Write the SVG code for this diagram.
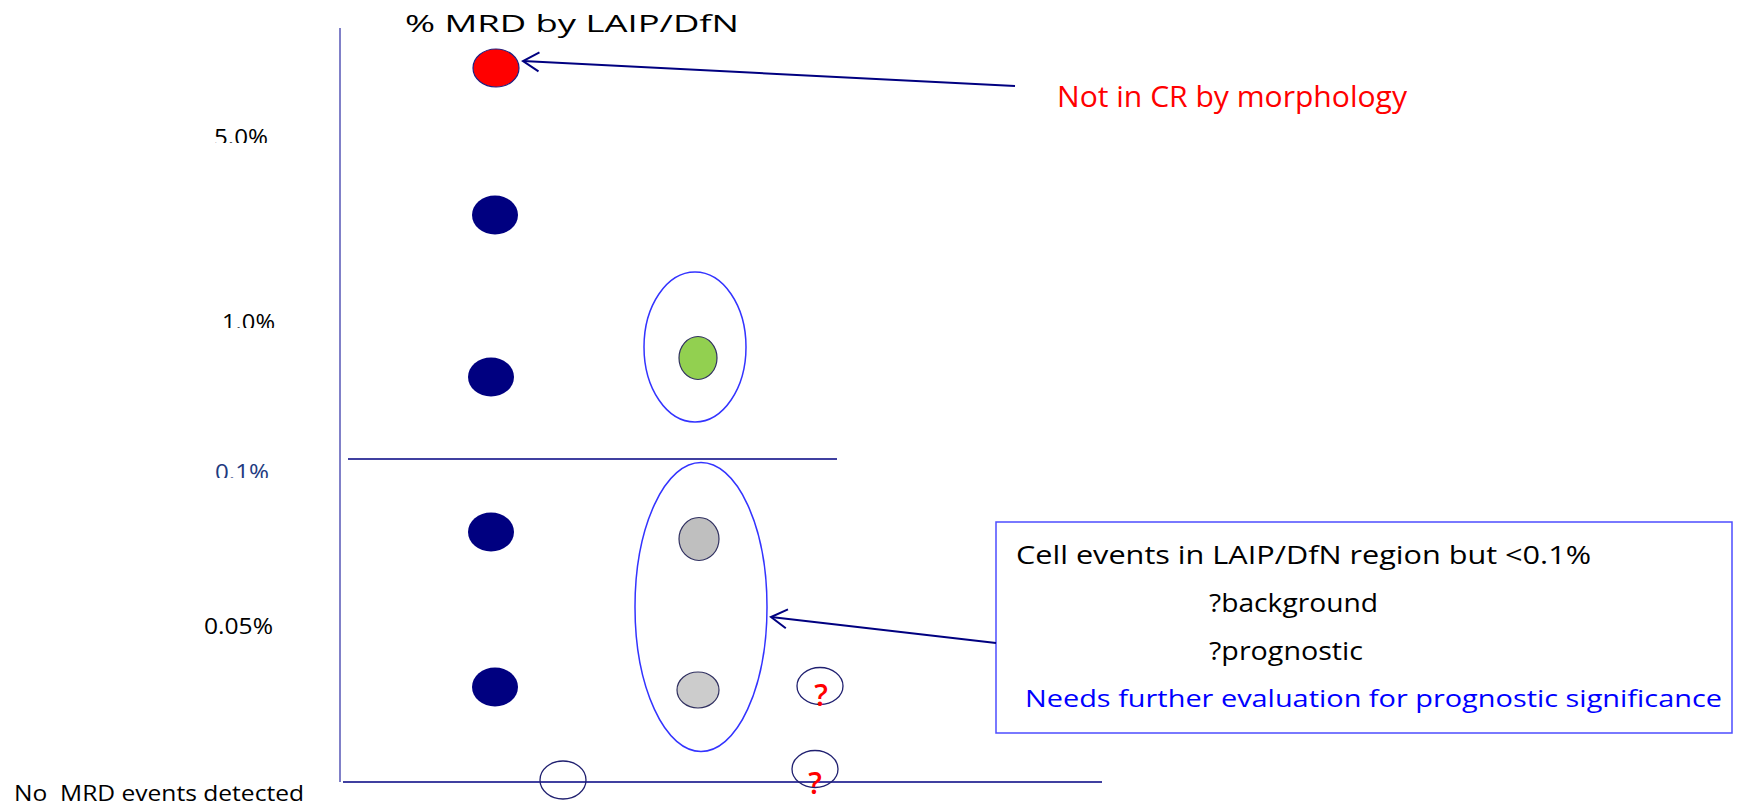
<svg xmlns="http://www.w3.org/2000/svg" width="1742" height="804" viewBox="0 0 1742 804">
  <style>
    .lbl { font-family: "Open Sans", "Liberation Sans", sans-serif; fill: #000; }
    .axis { stroke: #8080c8; stroke-width: 2; fill: none; }
    .hline { stroke: #000080; stroke-width: 1.6; fill: none; }
    .dot { fill: #000080; }
    .ring { fill: none; stroke: #3333ff; stroke-width: 1.5; }
    .small { fill: none; stroke: #202070; stroke-width: 1.3; }
    .q { font-family: "Open Sans", "Liberation Sans", sans-serif; fill: #ff0000; font-size: 30px; font-weight: 600; text-anchor: middle; }
    .conn { stroke: #000080; stroke-width: 2; fill: none; }
  </style>
  <defs>
    <marker id="open" viewBox="-20 -12 24 24" refX="0" refY="0" markerWidth="24" markerHeight="24" markerUnits="userSpaceOnUse" orient="auto">
      <path d="M-16,-9.5 L0,0 L-16,9.5" fill="none" stroke="#000080" stroke-width="2"/>
    </marker>
    <clipPath id="c5"><rect x="150" y="100" width="200" height="43"/></clipPath>
    <clipPath id="c1"><rect x="150" y="290" width="200" height="38"/></clipPath>
    <clipPath id="c01"><rect x="150" y="440" width="180" height="38"/></clipPath>
  </defs>
  <rect width="1742" height="804" fill="#ffffff"/>

  <g id="axes">
    <line class="axis" x1="340" y1="28" x2="340" y2="782"/>
    <line class="hline" x1="348" y1="459" x2="837" y2="459"/>
    <line class="hline" x1="343" y1="782" x2="1102" y2="782"/>
  </g>

  <g id="axis-labels">
    <text class="lbl" x="405" y="32" font-size="24" textLength="334" lengthAdjust="spacingAndGlyphs">% MRD by LAIP/DfN</text>
    <text class="lbl" x="214" y="145" font-size="22" textLength="54" lengthAdjust="spacingAndGlyphs" clip-path="url(#c5)">5.0%</text>
    <text class="lbl" x="222" y="330" font-size="22" textLength="53" lengthAdjust="spacingAndGlyphs" clip-path="url(#c1)">1.0%</text>
    <text class="lbl" x="215" y="480" font-size="22" textLength="54" lengthAdjust="spacingAndGlyphs" style="fill:#1f3b7f" clip-path="url(#c01)">0.1%</text>
    <text class="lbl" x="204" y="634" font-size="22" textLength="69" lengthAdjust="spacingAndGlyphs">0.05%</text>
    <text class="lbl" x="14" y="801" font-size="22" textLength="290" lengthAdjust="spacingAndGlyphs" style="white-space:pre">No  MRD events detected</text>
  </g>

  <g id="red-dot"><ellipse cx="496" cy="68" rx="23" ry="19" fill="#ff0000" stroke="#202080" stroke-width="1.2"/></g>
  <g id="dot-1"><ellipse class="dot" cx="495" cy="215" rx="23" ry="19.5"/></g>
  <g id="dot-2"><ellipse class="dot" cx="491" cy="377" rx="23" ry="19.5"/></g>
  <g id="dot-3"><ellipse class="dot" cx="491" cy="532" rx="23" ry="19.5"/></g>
  <g id="dot-4"><ellipse class="dot" cx="495" cy="687" rx="23" ry="19.5"/></g>

  <g id="green-group">
    <ellipse class="ring" cx="695" cy="347" rx="51" ry="75"/>
    <ellipse cx="698" cy="358" rx="19" ry="21.5" fill="#92d050" stroke="#303060" stroke-width="1.2"/>
  </g>

  <g id="grey-group">
    <ellipse class="ring" cx="701" cy="607" rx="66" ry="144.5"/>
    <ellipse cx="699" cy="539" rx="20" ry="21.5" fill="#bfbfbf" stroke="#303060" stroke-width="1.2"/>
    <ellipse cx="698" cy="690" rx="21" ry="18" fill="#cccccc" stroke="#303060" stroke-width="1.2"/>
  </g>

  <g id="q1">
    <ellipse class="small" cx="820" cy="686" rx="23" ry="18.5"/>
    <text class="q" x="821" y="706">?</text>
  </g>
  <g id="q2">
    <ellipse class="small" cx="815" cy="769" rx="23" ry="18.5"/>
    <text class="q" x="815" y="794">?</text>
  </g>
  <g id="empty-circle"><ellipse class="small" cx="563" cy="780" rx="23" ry="19"/></g>

  <g id="note-cr">
    <text class="lbl" x="1057" y="107" font-size="29" textLength="350" lengthAdjust="spacingAndGlyphs" style="fill:#ff0000">Not in CR by morphology</text>
  </g>

  <g id="note-box">
    <rect x="996" y="522" width="736" height="211" fill="#ffffff" stroke="#4d4dff" stroke-width="1.5"/>
    <text class="lbl" x="1016" y="564" font-size="25" textLength="575" lengthAdjust="spacingAndGlyphs">Cell events in LAIP/DfN region but &lt;0.1%</text>
    <text class="lbl" x="1209" y="612" font-size="25" textLength="169" lengthAdjust="spacingAndGlyphs">?background</text>
    <text class="lbl" x="1209" y="660" font-size="25" textLength="154" lengthAdjust="spacingAndGlyphs">?prognostic</text>
    <text class="lbl" x="1025" y="707" font-size="23" textLength="697" lengthAdjust="spacingAndGlyphs" style="fill:#0000ff">Needs further evaluation for prognostic significance</text>
  </g>

  <g id="connectors">
    <line class="conn" x1="1015" y1="86" x2="523" y2="61" marker-end="url(#open)"/>
    <line class="conn" x1="996" y1="643" x2="771" y2="617" marker-end="url(#open)"/>
  </g>
</svg>
